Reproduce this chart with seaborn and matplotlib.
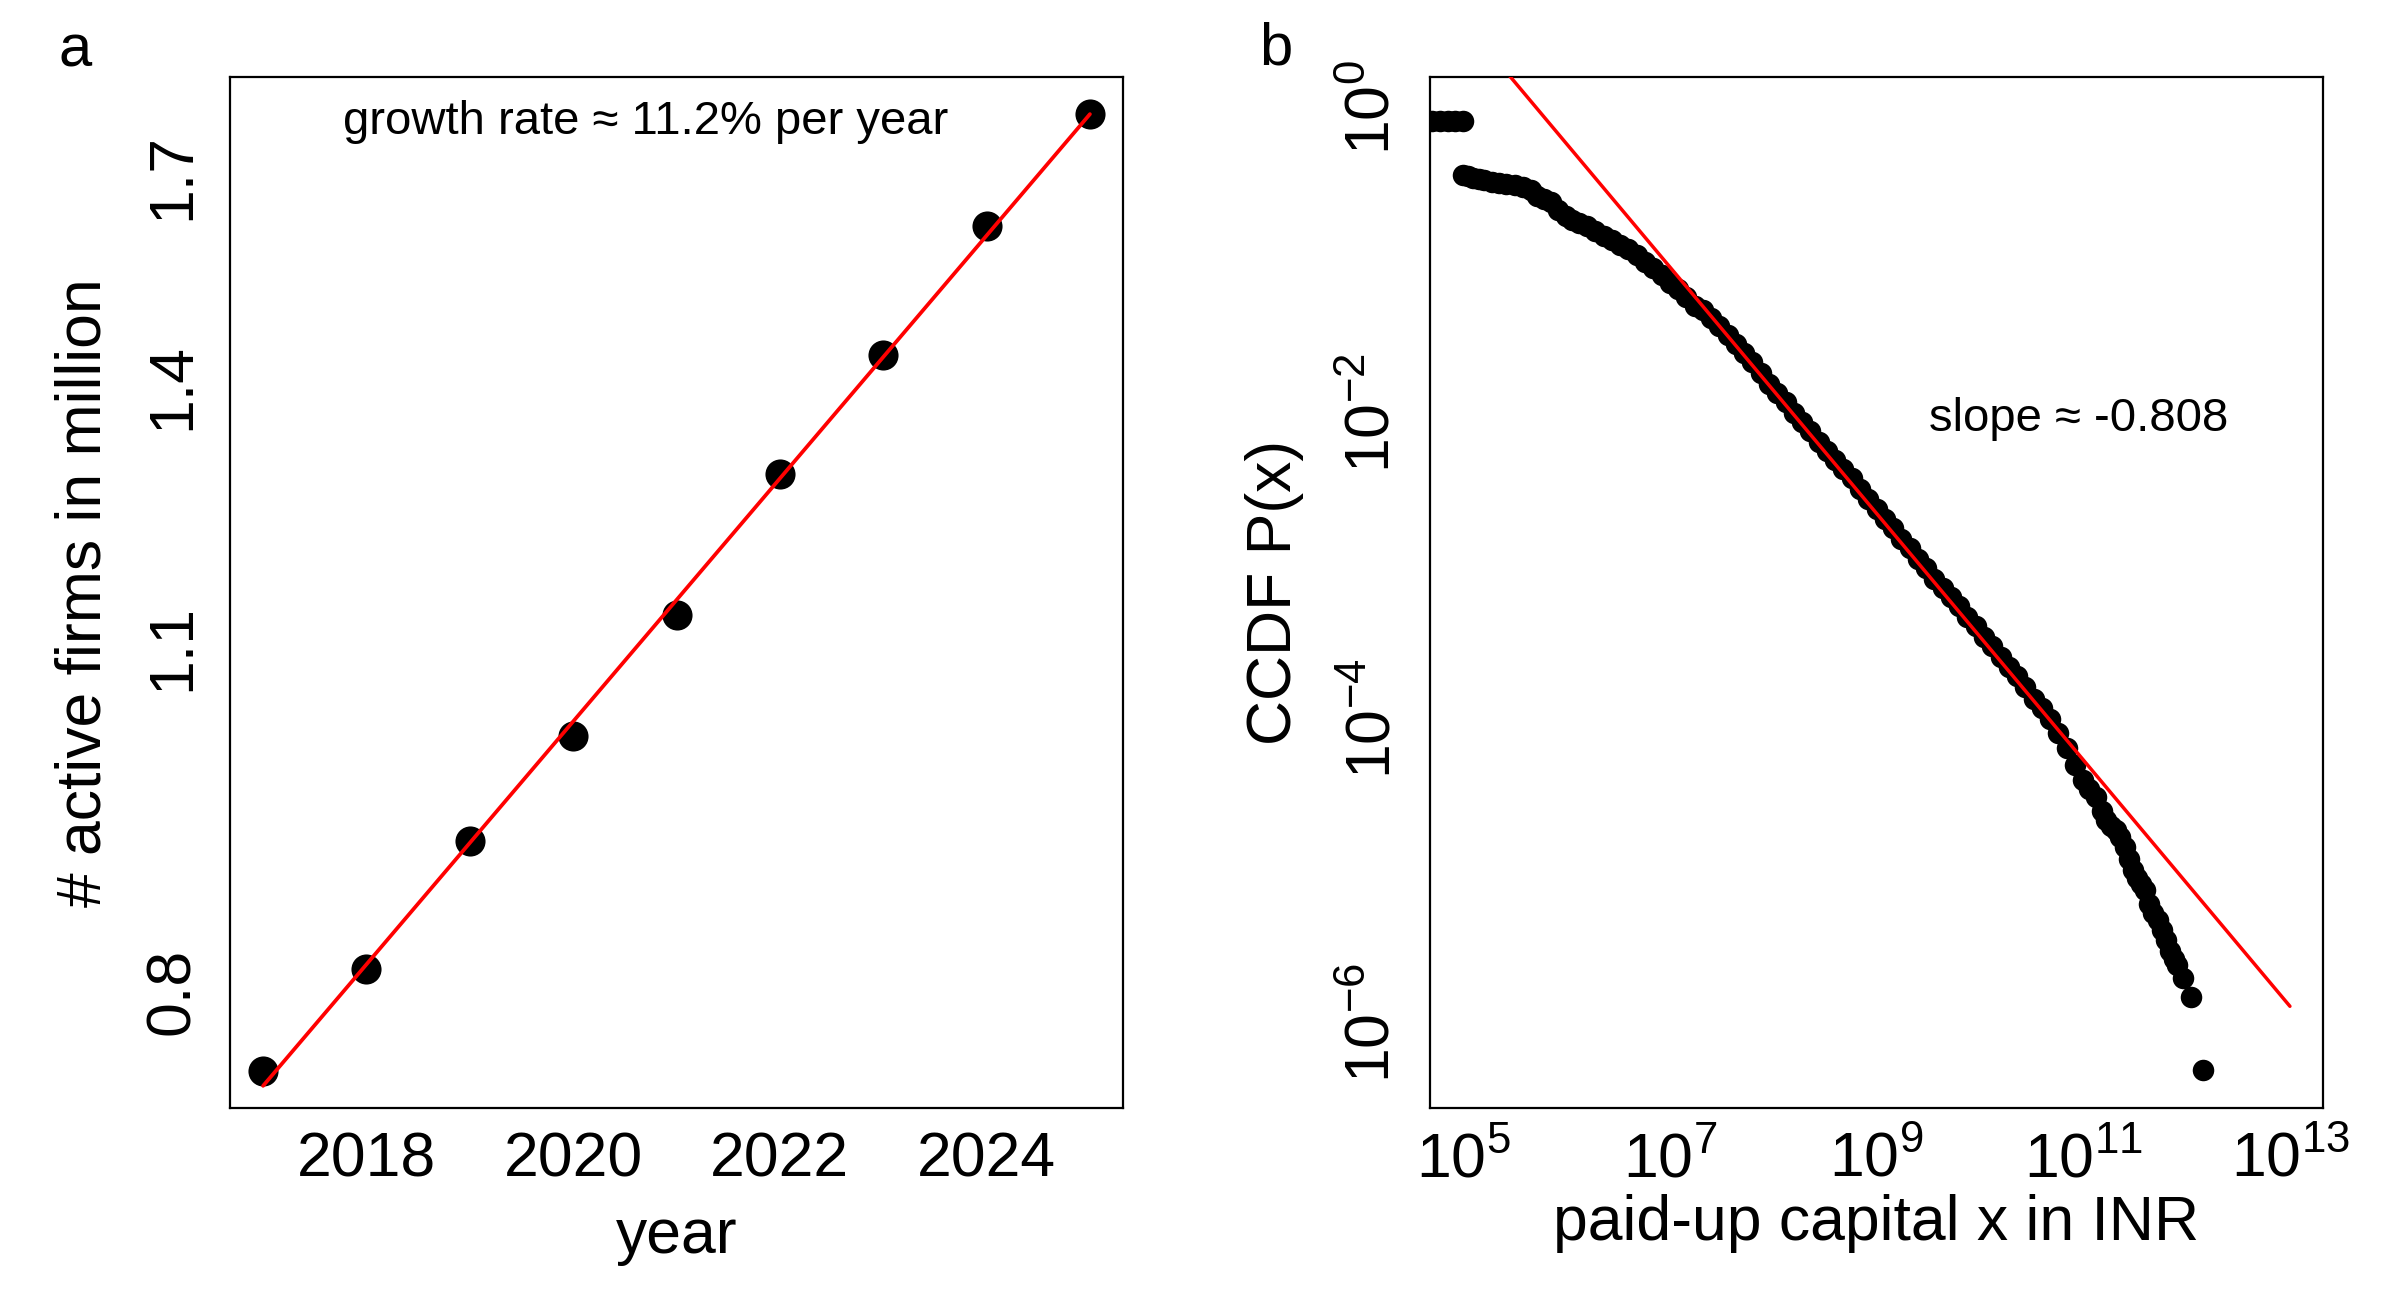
import numpy as np
import matplotlib
matplotlib.use("Agg")
import matplotlib.pyplot as plt
import matplotlib.transforms as mtransforms
from matplotlib.ticker import NullLocator
import seaborn as sns

# --- panel a: active firms per year ---
years = [2017, 2018, 2019, 2020, 2021, 2022, 2023, 2024, 2025]
active_firms_million = [0.748, 0.822, 0.925, 1.020, 1.141, 1.299, 1.451, 1.635, 1.814]
year_ticks = [2018, 2020, 2022, 2024]
firm_ticks = [0.8, 1.1, 1.4, 1.7]

# --- panel b: CCDF of paid-up capital, log10 values ---
log_capital = [
    4.55, 4.62, 4.70, 4.78, 4.85, 4.92, 5.00,
    5.00, 5.05, 5.10, 5.15, 5.20, 5.28, 5.35, 5.42, 5.50, 5.58, 5.66, 5.72,
    5.78, 5.85, 5.92, 6.00, 6.05, 6.12, 6.20, 6.28, 6.36, 6.44, 6.52, 6.60,
    6.68, 6.76, 6.84, 6.92, 7.00, 7.08, 7.16, 7.24, 7.32, 7.40, 7.48, 7.56,
    7.64, 7.72, 7.80, 7.88, 7.96, 8.04, 8.12, 8.20, 8.28, 8.36, 8.44, 8.52,
    8.60, 8.68, 8.76, 8.84, 8.92, 9.00, 9.08, 9.16, 9.24, 9.32, 9.40, 9.48,
    9.56, 9.64, 9.72, 9.80, 9.88, 9.96, 10.04, 10.12, 10.20, 10.28, 10.36,
    10.44, 10.52, 10.60, 10.68, 10.76, 10.84, 10.92, 11.00, 11.06, 11.12,
    11.18, 11.22, 11.27, 11.32, 11.36, 11.40, 11.44, 11.48, 11.52, 11.56,
    11.60, 11.64, 11.68, 11.72, 11.76, 11.80, 11.84, 11.88, 11.91, 11.97,
    12.04, 12.16,
]
log_ccdf = [
    -0.04, -0.04, -0.04, -0.04, -0.04, -0.04, -0.04,
    -0.39, -0.40, -0.41, -0.42, -0.425, -0.44, -0.445, -0.45, -0.46, -0.47, -0.49, -0.53,
    -0.55, -0.57, -0.62, -0.66, -0.69, -0.71, -0.73, -0.76, -0.79, -0.82, -0.85, -0.88,
    -0.92, -0.96, -1.00, -1.05, -1.10, -1.14, -1.19, -1.25, -1.28, -1.33, -1.38, -1.44,
    -1.50, -1.56, -1.62, -1.69, -1.76, -1.82, -1.88, -1.95, -2.01, -2.07, -2.14, -2.20,
    -2.26, -2.32, -2.38, -2.45, -2.52, -2.58, -2.65, -2.71, -2.78, -2.84, -2.91, -2.97,
    -3.04, -3.10, -3.16, -3.22, -3.29, -3.35, -3.42, -3.48, -3.55, -3.62, -3.68,
    -3.75, -3.83, -3.89, -3.96, -4.05, -4.15, -4.26, -4.36, -4.42, -4.47,
    -4.56, -4.62, -4.66, -4.69, -4.73, -4.80, -4.88, -4.95, -5.00, -5.04,
    -5.08, -5.17, -5.23, -5.28, -5.34, -5.41, -5.48, -5.53, -5.57, -5.66,
    -5.78, -6.26,
]
fit_slope = -0.808
fit_log_intercept = 4.661
fit_span = [1e5, 1e13]
capital_ticks = [1e5, 1e7, 1e9, 1e11, 1e13]
ccdf_ticks = [1e0, 1e-2, 1e-4, 1e-6]

sns.set_style("white")
plt.rcParams["font.family"] = ["Liberation Sans", "DejaVu Sans"]
plt.rcParams["mathtext.fontset"] = "custom"
plt.rcParams["mathtext.rm"] = "Liberation Sans"
plt.rcParams["mathtext.it"] = "Liberation Sans:italic"
plt.rcParams["mathtext.default"] = "regular"
plt.rcParams["text.color"] = "black"
plt.rcParams["axes.labelcolor"] = "black"
plt.rcParams["xtick.color"] = "black"
plt.rcParams["ytick.color"] = "black"

TICK_FS = 45
LABEL_FS = 45

fig = plt.figure(figsize=(24, 13), dpi=100)
W, H = 2400, 1300
ax1 = fig.add_axes([230 / W, 1 - 1108 / H, 893 / W, 1031 / H])
ax2 = fig.add_axes([1430 / W, 1 - 1108 / H, 893 / W, 1031 / H])


def style_axes(ax):
    for sp in ax.spines.values():
        sp.set_visible(True)
        sp.set_color("black")
        sp.set_linewidth(1.6)
    ax.tick_params(axis="both", which="major", direction="out", length=14,
                   width=1.3, color="black", labelsize=TICK_FS, labelcolor="black")
    ax.tick_params(axis="x", pad=2)
    ax.tick_params(axis="y", pad=6)
    ax.xaxis.set_minor_locator(NullLocator())
    ax.yaxis.set_minor_locator(NullLocator())


# --- panel a ---
ax1.set_yscale("log")
sns.scatterplot(x=years, y=active_firms_million, ax=ax1, color="black",
                s=470, linewidth=0, zorder=2)
coef = np.polyfit(years, np.log(active_firms_million), 1)
fit_years = np.array(years, dtype=float)
sns.lineplot(x=fit_years, y=np.exp(np.polyval(coef, fit_years)), ax=ax1,
             color="red", linewidth=2.7, zorder=3)
ax1.set_xlim(2016.68, 2025.32)
ax1.set_ylim(0.7225, 1.877)
ax1.set_xticks(year_ticks)
ax1.set_xticklabels([str(y) for y in year_ticks])
ax1.set_yticks(firm_ticks)
ax1.set_yticklabels([f"{v:.1f}" for v in firm_ticks], rotation=90, va="center")
style_axes(ax1)
ax1.text(2020.7, 1.80, "growth rate \u2248 11.2% per year", ha="center",
         va="center", fontsize=34)
ax1.set_xlabel("year", fontsize=LABEL_FS)
ax1.xaxis.set_label_coords(0.5, (47 - 192) / 1031)
ax1.xaxis.label.set_verticalalignment("baseline")
ax1.set_ylabel("# active firms in million", fontsize=LABEL_FS)
ax1.yaxis.set_label_coords((84 - 230) / 893, 0.5)
ax1.yaxis.label.set_verticalalignment("center")

# --- panel b ---
ax2.set_xscale("log")
ax2.set_yscale("log")
capital = 10 ** np.array(log_capital)
ccdf = 10 ** np.array(log_ccdf)
sns.scatterplot(x=capital, y=ccdf, ax=ax2, color="black", s=240,
                linewidth=0, zorder=2)
fit_x = np.array(fit_span)
fit_y = 10 ** (fit_log_intercept + fit_slope * np.log10(fit_x))
sns.lineplot(x=fit_x, y=fit_y, ax=ax2, color="red", linewidth=2.5, zorder=3)
ax2.set_xlim(10 ** 4.68, 10 ** 13.32)
ax2.set_ylim(10 ** -6.51, 10 ** 0.25)
ax2.set_xticks(capital_ticks)
ax2.set_xticklabels([rf"$10^{{{int(np.log10(v))}}}$" for v in capital_ticks])
ax2.set_yticks(ccdf_ticks)
ax2.set_yticklabels([rf"$10^{{{int(np.log10(v))}}}$" for v in ccdf_ticks],
                    rotation=90, va="center")
style_axes(ax2)
ax2.text(10 ** 10.96, 10 ** -1.99, "slope \u2248 -0.808", ha="center",
         va="center", fontsize=34)
ax2.set_xlabel("paid-up capital x in INR", fontsize=LABEL_FS)
ax2.xaxis.set_label_coords(0.5, (60 - 192) / 1031)
ax2.xaxis.label.set_verticalalignment("baseline")
ax2.set_ylabel("CCDF P(x)", fontsize=LABEL_FS)
ax2.yaxis.set_label_coords((1275 - 1430) / 893, 0.5)
ax2.yaxis.label.set_verticalalignment("center")

# nudge the rotated y tick labels so they sit centred on their ticks
nudge = mtransforms.ScaledTranslation(0, 7 / 100, fig.dpi_scale_trans)
for ax in (ax1, ax2):
    for lab in ax.get_yticklabels():
        lab.set_transform(lab.get_transform() + nudge)

# panel letters
fig.text(75 / W, 1 - 51 / H, "a", ha="center", va="center", fontsize=43)
fig.text(1276 / W, 1 - 49 / H, "b", ha="center", va="center", fontsize=43)

fig.savefig("out.png", dpi=100, facecolor="white")
